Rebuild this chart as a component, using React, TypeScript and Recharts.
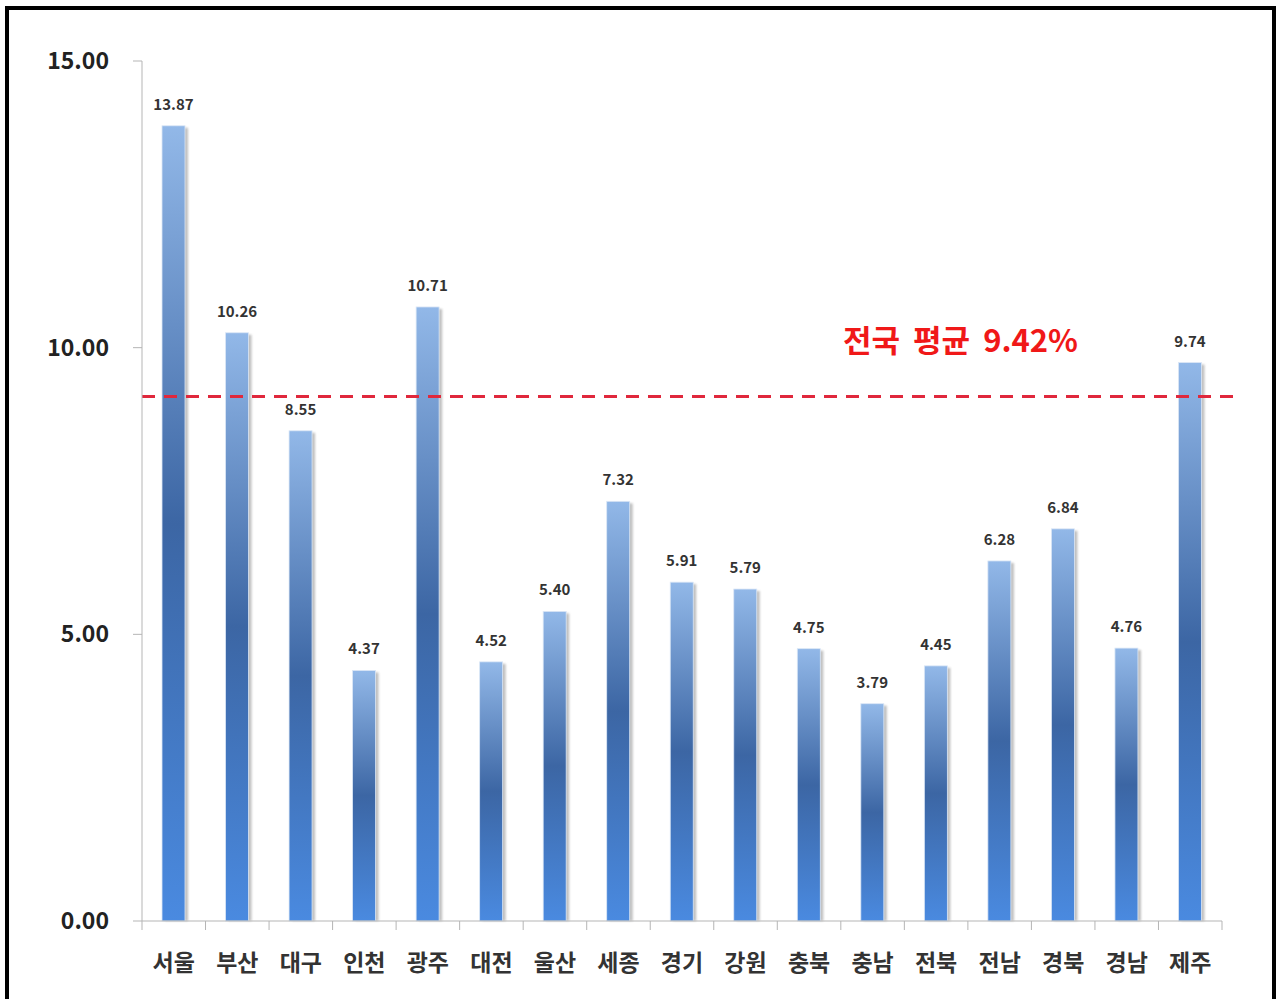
import React from 'react';
import {
  BarChart,
  Bar,
  XAxis,
  YAxis,
  LabelList,
  ReferenceLine,
} from 'recharts';

const regions = ['서울', '부산', '대구', '인천', '광주', '대전', '울산', '세종', '경기', '강원', '충북', '충남', '전북', '전남', '경북', '경남', '제주'];
const rates = [13.87, 10.26, 8.55, 4.37, 10.71, 4.52, 5.4, 7.32, 5.91, 5.79, 4.75, 3.79, 4.45, 6.28, 6.84, 4.76, 9.74];
const yTicks = [0, 5, 10, 15];
const averageLine = 9.15;
const averageText = '전국 평균 9.42%';

const data = regions.map((region, i) => ({ region, rate: rates[i] }));

const FONT = "'Noto Sans CJK KR', 'Noto Sans', sans-serif";
const CHART_W = 1276;
const CHART_H = 999;
const MARGIN = { top: 61, right: 54, left: 42, bottom: 18 };
const Y_AXIS_W = 100;
const plotW = CHART_W - MARGIN.left - MARGIN.right - Y_AXIS_W;
const band = plotW / regions.length;

const ShadowBar = (props: any) => {
  const { x, y, width, height } = props;
  if (!height || height <= 0) return null;
  return (
    <g>
      <rect x={x + 3} y={y + 2} width={width} height={height - 2} fill='#8c8c8c' opacity={0.55} filter='url(#barBlur)' />
      <rect x={x} y={y} width={width} height={height} fill='url(#barGrad)' stroke='#dbe7f6' strokeWidth={0.8} />
    </g>
  );
};

const RegionTick = (props: any) => {
  const { x, y, payload, index } = props;
  const left = x - band / 2;
  return (
    <g>
      <line x1={left} y1={y} x2={left} y2={y + 9} stroke='#b5b5b5' />
      {index === regions.length - 1 && (
        <line x1={x + band / 2} y1={y} x2={x + band / 2} y2={y + 9} stroke='#b5b5b5' />
      )}
      <text x={x} y={y + 50} textAnchor='middle' fontSize={23} fontWeight={700} fill='#333' fontFamily={FONT}>
        {payload.value}
      </text>
    </g>
  );
};

const AverageLine = (props: any) => {
  const { x1, y1, x2, y2 } = props;
  return (
    <line x1={x1} y1={y1} x2={x2 + 20} y2={y2} stroke='#e0283c' strokeWidth={3} strokeDasharray='13 9' />
  );
};

const AverageLabel = (props: any) => {
  const { viewBox } = props;
  return (
    <text
      x={viewBox.x + 701}
      y={viewBox.y - 44}
      fontSize={31}
      fontWeight={700}
      fill='#f01818'
      fontFamily={FONT}
      wordSpacing={6}
    >
      {averageText}
    </text>
  );
};

const App = () => {
  return (
    <div style={{ position: 'absolute', left: 0, top: 0, width: CHART_W, height: CHART_H, background: '#fff', overflow: 'hidden' }}>
      <div
        style={{
          position: 'absolute',
          left: 5,
          top: 6,
          width: 1271,
          height: 1100,
          boxSizing: 'border-box',
          borderTop: '4px solid #000',
          borderLeft: '4px solid #000',
          borderRight: '4px solid #000',
        }}
      />
      <div style={{ position: 'absolute', left: 0, top: 0 }}>
        <BarChart width={CHART_W} height={CHART_H} data={data} margin={MARGIN} barSize={23}>
          <defs>
            <linearGradient id='barGrad' x1='0' y1='0' x2='0' y2='1'>
              <stop offset='0' stopColor='#92b8e8' />
              <stop offset='0.5' stopColor='#3c66a4' />
              <stop offset='1' stopColor='#4a8ae0' />
            </linearGradient>
            <filter id='barBlur' x='-50%' y='-10%' width='200%' height='120%'>
              <feGaussianBlur stdDeviation='1.2' />
            </filter>
          </defs>
          <YAxis
            width={Y_AXIS_W}
            domain={[0, 15]}
            ticks={yTicks}
            tickFormatter={(v: number) => v.toFixed(2)}
            axisLine={{ stroke: '#b5b5b5' }}
            tickLine={{ stroke: '#b5b5b5' }}
            tickSize={9}
            tickMargin={24}
            tick={{ fontSize: 23, fontWeight: 700, fill: '#222', fontFamily: FONT }}
          />
          <XAxis
            dataKey='region'
            height={60}
            interval={0}
            axisLine={{ stroke: '#b5b5b5' }}
            tickLine={false}
            tickSize={0}
            tickMargin={0}
            tick={<RegionTick />}
          />
          <ReferenceLine y={averageLine} shape={<AverageLine />} label={<AverageLabel />} />
          <Bar dataKey='rate' shape={<ShadowBar />} isAnimationActive={false}>
            <LabelList
              dataKey='rate'
              position='top'
              offset={16}
              formatter={(v: number) => v.toFixed(2)}
              style={{ fontSize: 15, fontWeight: 700, fill: '#333', fontFamily: FONT }}
            />
          </Bar>
        </BarChart>
      </div>
    </div>
  );
};

export default App;
